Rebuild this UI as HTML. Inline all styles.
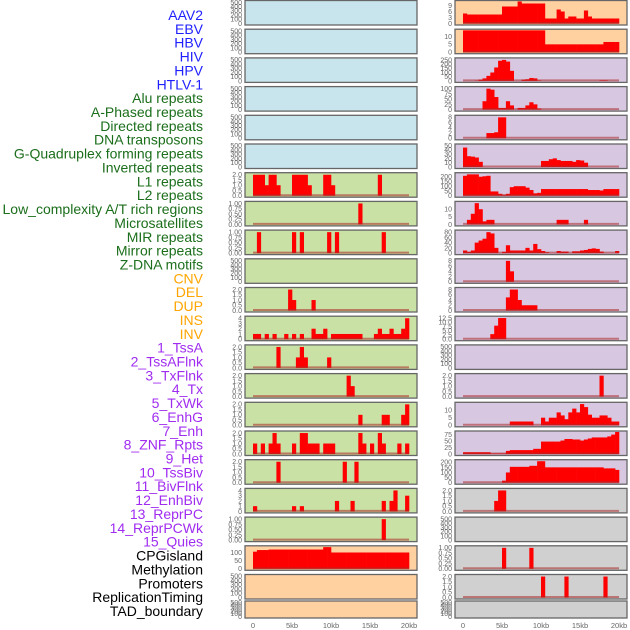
<!DOCTYPE html>
<html><head><meta charset="utf-8"><style>
html,body{margin:0;padding:0;background:#fff;}
svg{display:block;font-family:"Liberation Sans",sans-serif;}
</style></head><body>
<svg id="chart" width="630" height="630" viewBox="0 0 630 630" xmlns="http://www.w3.org/2000/svg"></svg>
<script>
// ---- track labels ----
const labelNames = ["AAV2","EBV","HBV","HIV","HPV","HTLV-1","Alu repeats","A-Phased repeats","Directed repeats","DNA transposons","G-Quadruplex forming repeats","Inverted repeats","L1 repeats","L2 repeats","Low_complexity A/T rich regions","Microsatellites","MIR repeats","Mirror repeats","Z-DNA motifs","CNV","DEL","DUP","INS","INV","1_TssA","2_TssAFlnk","3_TxFlnk","4_Tx","5_TxWk","6_EnhG","7_Enh","8_ZNF_Rpts","9_Het","10_TssBiv","11_BivFlnk","12_EnhBiv","13_ReprPC","14_ReprPCWk","15_Quies","CPGisland","Methylation","Promoters","ReplicationTiming","TAD_boundary"];
const labelGroups = [0,0,0,0,0,0,1,1,1,1,1,1,1,1,1,1,1,1,1,2,2,2,2,2,3,3,3,3,3,3,3,3,3,3,3,3,3,3,3,4,4,4,4,4];
const groupColors = ["#1f1fff","#1b6e1b","#ffa500","#a02cf0","#000000"];

// ---- x axis ----
const xTickValues = [0,5,10,15,20];
const xTickLabels = ["0","5kb","10kb","15kb","20kb"];

// ---- left column series (40 bins of 0.5kb) ----
const leftL1 = [2,2,2,1,2,2,1,0,0,0, 2,2,2,2,1,0,0,0,2,2, 1,0,0,0,0,0,0,0,0,0, 0,0,2,0,0,0,0,0,0,0];
const leftL2 = [0,0,0,0,0,0,0,0,0,0, 0,0,0,0,0,0,0,0,0,0, 0,0,0,0,0,0,0,1,0,0, 0,0,0,0,0,0,0,0,0,0];
const leftLowComplex = [0,1,0,0,0,0,0,0,0,0, 1,0,1,0,0,0,0,0,0,1, 0,1,0,0,0,0,0,0,0,0, 0,0,0,1,0,0,0,0,0,0];
const leftMIR = [0,0,0,0,0,0,0,0,0,2, 1,0,0,0,0,1,0,0,0,0, 0,0,0,0,0,0,0,0,0,0, 0,0,0,0,0,0,0,0,0,0];
const leftMirror = [1,1,0,1,0,1,0,0,1,0, 1,0,1,0,0,2,1,1,2,0, 1,1,1,1,1,1,1,1,0,0, 0,1,2,1,1,2,1,1,2,4];
const leftTssA = [0,0,0,0,0,0,2,0,0,0, 0,1,2,1,0,0,0,0,0,1, 0,0,0,0,0,0,0,0,0,0, 0,0,0,0,0,0,0,0,0,0];
const leftTssAFlnk = [0,0,0,0,0,0,0,0,0,0, 0,0,0,0,0,0,0,0,0,0, 0,0,0,0,2,1,0,0,0,0, 0,0,0,0,0,0,0,0,0,0];
const leftTxFlnk = [0,0,0,0,0,0,0,0,0,0, 0,0,0,0,0,0,0,0,0,0, 0,0,0,0,0,0,0,1,0,0, 0,0,0,1,1,0,0,0,1,2];
const leftTx = [1,0,1,0,1,2,1,0,0,0, 1,0,2,2,1,1,1,0,1,1, 1,0,0,0,0,0,0,2,1,0, 1,0,2,1,0,0,0,1,0,1];
const leftTxWk = [0,0,0,0,0,0,2,0,0,0, 0,0,0,0,0,0,0,0,0,0, 0,0,0,2,0,0,2,0,0,0, 0,0,0,0,0,0,0,0,0,0];
const leftEnhG = [1,0,0,0,0,0,0,0,0,0, 1,0,1,0,0,0,0,0,0,0, 0,2,0,0,0,2,0,0,0,0, 0,0,0,2,0,2,4,0,0,3];
const leftEnh = [0,0,0,0,0,0,0,0,0,0, 0,0,0,0,0,0,0,0,0,0, 0,0,0,0,0,0,0,0,0,0, 0,0,0,1,0,0,0,0,0,0];
const leftCpG = [105,115,115,115,118,118,118,118,118,118, 118,118,118,118,118,118,118,118,133,133, 100,100,100,100,100,100,100,100,100,100, 100,100,100,100,100,100,100,100,100,100];

// ---- right column series ----
const rightA = [5,4.5,4.5,4.5,4.5,4.5,4.5,4.5,4.5,4.5, 8.5,8.5,8.5,8.5,11,10,10,10,10,10, 10,2.5,2.5,2.5,7,6,2.5,3.5,3.5,2.5, 2.5,6.5,3.5,2.5,2.5,2.5,2.5,2.5,2.5,2.5];
const rightB = [13.9,13.9,13.9,13.9,13.9,13.9,13.9,13.9,13.9,13.9, 13.9,13.9,13.9,13.9,13.9,13.9,13.9,13.9,13.9,13.9, 13.9,5,5,5,5,5,5,5,5,5, 5,5,5,5,5,5,6.5,6.5,6.5,6.5];
const rightC = [0,0,0,3,15,30,60,100,160,240, 250,230,120,0,0,15,20,35,30,5, 0,0,0,0,0,0,0,0,0,0, 0,0,0,0,0,6,6,0,0,0];
const rightD = [0,0,0,0,0,40,100,95,60,8, 8,40,20,0,8,8,20,35,25,5, 0,0,0,0,0,0,0,0,0,0, 0,0,0,0,0,0,0,0,0,0];
const rightE = [0,0,0,0,0,0,2,2,2.3,8, 8,0,0,0,0,0,0,0,0,0, 0,0,0,0,0,0,0,0,0,0, 0,0,0,0,0,0,0,0,0,0];
const rightF = [45,25,24,22,12,0,0,0,0,0, 0,0,0,0,0,0,0,0,0,0, 14,14,18,20,16,14,14,14,12,16, 15,10,0,0,0,0,0,0,0,0];
const rightG = [210,225,225,225,200,205,210,45,45,20, 10,20,90,100,100,100,85,60,25,30, 70,70,70,70,70,70,70,70,70,70, 70,70,60,60,60,55,70,70,70,70];
const rightH = [0,3,7,14,10,2,3,3,0,0, 0,0,0,0,0,0,0,0,0,0, 0,0,0,0,3,3,3,0,0,0, 0,3,0,0,0,0,0,0,0,0];
const rightI = [10,5,10,40,48,55,80,75,20,0, 5,30,10,10,10,10,20,10,35,15, 8,3,0,0,8,6,6,0,7,7, 10,12,16,18,16,6,0,0,0,8];
const rightJ = [0,0,0,0,0,0,0,0,0,0, 0,8,4,0,0,0,0,0,0,0, 0,0,0,0,0,0,0,0,0,0, 0,0,0,0,0,0,0,0,0,0];
const rightK = [0,0,0,0,0,0,0,0,0,0, 0,5,8,8,4,2,2,2,2,0, 0,0,0,0,0,0,0,0,0,0, 0,0,0,0,0,0,0,0,0,0];
const rightL = [0,0,0,0,0,0,0,3,8,12.5, 12.5,0,0,0,0,0,0,0,0,0, 0,0,0,0,0,0,0,0,0,0, 0,0,0,0,0,0,0,0,0,0];
const rightM = [0,0,0,0,0,0,0,0,0,0, 0,0,0,0,0,0,0,0,0,0, 0,0,0,0,0,0,0,0,0,0, 0,0,0,0,0,2,0,0,0,0];
const rightN = [0,0,0,0,0,0,0,0,0,0, 0,0,2.5,2.5,2.5,2.5,2.5,2.5,0,0, 5,2.5,5,5,8.5,6.5,4,8.5,11,8.5, 14,12,7,5,5,6.5,6.5,5,2.5,2.5];
const rightO = [7,7,7,7,7,7,7,2,2,2, 2,12,15,15,15,15,15,15,20,20, 48,48,48,48,48,52,58,58,56,56, 52,56,60,64,64,64,64,68,75,85];
const rightP = [0,0,0,0,0,0,0,0,0,0, 20,100,155,155,155,155,155,165,165,210, 210,150,150,150,150,150,150,150,150,150, 150,150,150,150,150,150,140,140,140,125];
const rightQ = [0,0,0,0,0,0,0,0,1,2, 2,0,0,0,0,0,0,0,0,0, 0,0,0,0,0,0,0,0,0,0, 0,0,0,0,0,0,0,0,0,0];
const rightR = [0,0,0,0,0,0,0,0,0,0, 1,0,0,0,0,0,0,1,0,0, 0,0,0,0,0,0,0,0,0,0, 0,0,0,0,0,0,0,0,0,0];
const rightS = [0,0,0,0,0,0,0,0,0,0, 0,0,0,0,0,0,0,0,0,0, 2,0,0,0,0,0,2,0,0,0, 0,0,0,0,0,0,2,0,0,0];

// ---- tick label sets ----
const ticksEmpty = ["0","100","200","300","400","500"];
const ticks2 = ["0.0","0.5","1.0","1.5","2.0"];
const ticks1 = ["0.00","0.25","0.50","0.75","1.00"];
const ticks4 = ["0","1","2","3","4"];
const ticksCpG = ["0","50","100"];
const ticksA = ["0","3","6","9"];
const ticks10 = ["0","5","10"];
const ticks250 = ["0","50","100","150","200","250"];
const ticks100 = ["0","25","50","75","100"];
const ticks8 = ["0","2","4","6","8"];
const ticks50 = ["0","10","20","30","40","50"];
const ticks200 = ["0","50","100","150","200"];
const ticks80 = ["0","20","40","60","80"];
const ticks125 = ["0.0","2.5","5.0","7.5","10.0","12.5"];
const ticks75 = ["0","25","50","75"];

const BLUE="#c8e4ec", GREEN="#c9e1a4", ORANGE="#ffd0a0", PURPLE="#d8c7e1", GRAY="#d0d0d0";

const leftPanels = [
 {name:"aav2",bg:BLUE,data:null,ticks:ticksEmpty,ymax:520},
 {name:"ebv",bg:BLUE,data:null,ticks:ticksEmpty,ymax:520},
 {name:"hbv",bg:BLUE,data:null,ticks:ticksEmpty,ymax:520},
 {name:"hiv",bg:BLUE,data:null,ticks:ticksEmpty,ymax:520},
 {name:"hpv",bg:BLUE,data:null,ticks:ticksEmpty,ymax:520},
 {name:"htlv",bg:BLUE,data:null,ticks:ticksEmpty,ymax:520},
 {name:"l1",bg:GREEN,data:leftL1,ticks:ticks2,ymax:2.1},
 {name:"l2",bg:GREEN,data:leftL2,ticks:ticks1,ymax:1.05},
 {name:"low-complexity",bg:GREEN,data:leftLowComplex,ticks:ticks1,ymax:1.05},
 {name:"microsatellites",bg:GREEN,data:null,ticks:ticksEmpty,ymax:520},
 {name:"mir",bg:GREEN,data:leftMIR,ticks:ticks2,ymax:2.1},
 {name:"mirror",bg:GREEN,data:leftMirror,ticks:ticks4,ymax:4.2},
 {name:"tssa",bg:GREEN,data:leftTssA,ticks:ticks2,ymax:2.1},
 {name:"tssaflnk",bg:GREEN,data:leftTssAFlnk,ticks:ticks2,ymax:2.1},
 {name:"txflnk",bg:GREEN,data:leftTxFlnk,ticks:ticks2,ymax:2.1},
 {name:"tx",bg:GREEN,data:leftTx,ticks:ticks2,ymax:2.1},
 {name:"txwk",bg:GREEN,data:leftTxWk,ticks:ticks2,ymax:2.1},
 {name:"enhg",bg:GREEN,data:leftEnhG,ticks:ticks4,ymax:4.2},
 {name:"enh",bg:GREEN,data:leftEnh,ticks:ticks1,ymax:1.05},
 {name:"cpg",bg:ORANGE,data:leftCpG,ticks:ticksCpG,ymax:135},
 {name:"orange-empty-1",bg:ORANGE,data:null,ticks:ticksEmpty,ymax:520},
 {name:"orange-empty-2",bg:ORANGE,data:null,ticks:ticksEmpty,ymax:520}
];
const rightPanels = [
 {name:"a",bg:ORANGE,data:rightA,ticks:ticksA,ymax:11},
 {name:"b",bg:ORANGE,data:rightB,ticks:ticks10,ymax:14},
 {name:"c",bg:PURPLE,data:rightC,ticks:ticks250,ymax:262},
 {name:"d",bg:PURPLE,data:rightD,ticks:ticks100,ymax:105},
 {name:"e",bg:PURPLE,data:rightE,ticks:ticks8,ymax:8.4},
 {name:"f",bg:PURPLE,data:rightF,ticks:ticks50,ymax:51},
 {name:"g",bg:PURPLE,data:rightG,ticks:ticks200,ymax:232},
 {name:"h",bg:PURPLE,data:rightH,ticks:ticks10,ymax:14.5},
 {name:"i",bg:PURPLE,data:rightI,ticks:ticks80,ymax:84},
 {name:"j",bg:PURPLE,data:rightJ,ticks:ticks8,ymax:8.4},
 {name:"k",bg:PURPLE,data:rightK,ticks:ticks8,ymax:8.4},
 {name:"l",bg:PURPLE,data:rightL,ticks:ticks125,ymax:13},
 {name:"empty",bg:PURPLE,data:null,ticks:ticksEmpty,ymax:520},
 {name:"m",bg:PURPLE,data:rightM,ticks:ticks2,ymax:2.1},
 {name:"n",bg:PURPLE,data:rightN,ticks:ticks10,ymax:14.5},
 {name:"o",bg:PURPLE,data:rightO,ticks:ticks75,ymax:85},
 {name:"p",bg:PURPLE,data:rightP,ticks:ticks200,ymax:215},
 {name:"q",bg:GRAY,data:rightQ,ticks:ticks2,ymax:2.1},
 {name:"gray-empty-1",bg:GRAY,data:null,ticks:ticksEmpty,ymax:520},
 {name:"r",bg:GRAY,data:rightR,ticks:ticks1,ymax:1.05},
 {name:"s",bg:GRAY,data:rightS,ticks:ticks2,ymax:2.1},
 {name:"gray-empty-2",bg:GRAY,data:null,ticks:ticksEmpty,ymax:520}
];

const NS="http://www.w3.org/2000/svg";
const svg=document.getElementById("chart");
function mk(tag,attrs,parent){const e=document.createElementNS(NS,tag);for(const k in attrs)e.setAttribute(k,attrs[k]);(parent||svg).appendChild(e);return e;}

// labels
labelNames.forEach((t,i)=>{
  const e=mk("text",{x:203,y:20+i*13.86,"text-anchor":"end","font-size":14,fill:groupColors[labelGroups[i]]});
  
  
  e.textContent=t;
});

const BIN=0.5, PXKB=7.8;
function panelTop(k){return k<21? 0.5+k*28.7 : 601;}
function panelH(k){return k<21? 24.5 : 17;}

function drawColumn(panels,px,x0,side){
  panels.forEach((p,k)=>{
    const top=panelTop(k), h=panelH(k);
    const g=mk("g",{});
    
    
    mk("rect",{x:px,y:top,width:172,height:h,fill:p.bg},g);
    const y0=top+h-1.5, y1=top+1;
    const yOf=v=>y0-(v/p.ymax)*(y0-y1);
    const xOf=kb=>x0+kb*PXKB;
    // ticks
    const n=p.ticks.length;
    p.ticks.forEach((t,i)=>{
      const v=parseFloat(t);
      const tx=mk("text",{x:px-3,y:yOf(v)+2.4,"text-anchor":"end","font-size":7,fill:"#666"},g);
      
      
      tx.textContent=t;
    });
    if(p.data){
      p.data.forEach((v,i)=>{
        if(v<=0) return;
        const r=mk("rect",{x:xOf(i*BIN),y:yOf(v),width:BIN*PXKB+0.3,height:y0-yOf(v),fill:"#ff0000"},g);
        
        
      });
      const bl=mk("line",{x1:xOf(0),x2:xOf(20),y1:y0-0.5,y2:y0-0.5,stroke:"rgba(170,40,40,0.55)","stroke-width":2},g);
      
      
    }
    mk("rect",{x:px,y:top,width:172,height:h,fill:"none",stroke:"#666","stroke-width":1.3},g);
  });
  xTickValues.forEach((v,i)=>{
    const t=mk("text",{x:x0+v*PXKB,y:628,"text-anchor":"middle","font-size":7.5,fill:"#666"});
    
    
    t.textContent=xTickLabels[i];
  });
}
drawColumn(leftPanels,245,253,"left");
drawColumn(rightPanels,455,463,"right");
</script>
</body></html>
